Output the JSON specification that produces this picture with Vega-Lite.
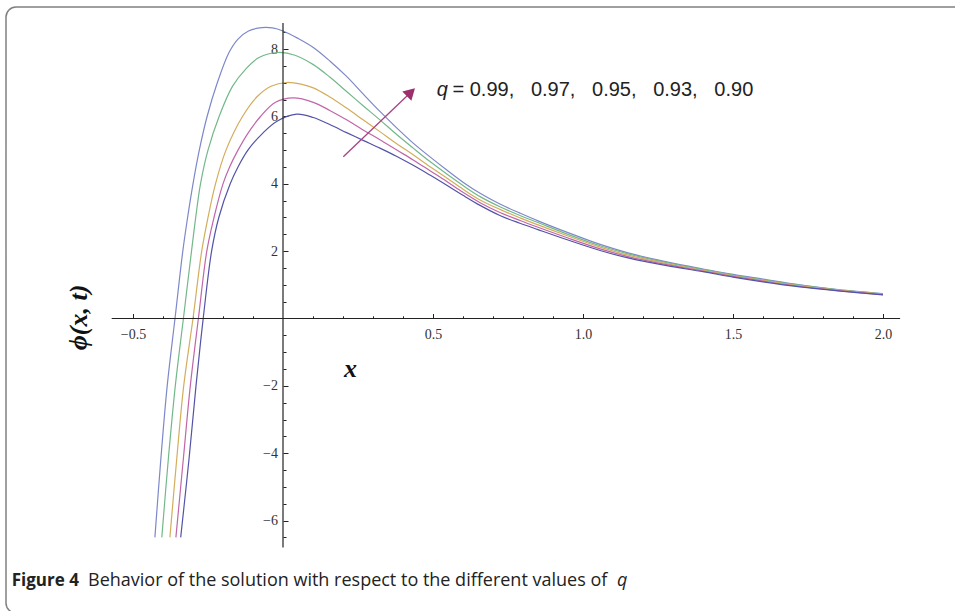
{
  "$schema": "https://vega.github.io/schema/vega-lite/v6.json",
  "width": 960,
  "height": 606,
  "autosize": "none",
  "padding": {"left": 6, "top": 7, "right": -11, "bottom": -2},
  "background": "white",
  "config": {
    "view": {"stroke": "#808080", "strokeWidth": 1.5, "cornerRadius": 10},
    "axis": {"grid": false, "domain": false}
  },
  "resolve": {"axis": {"x": "independent", "y": "independent"}},
  "layer": [
    {
      "data": {"values": [
        {"q":"0.99","x":-0.427,"y":-6.5},{"q":"0.99","x":-0.407,"y":-4.15},{"q":"0.99","x":-0.386,"y":-2.0},{"q":"0.99","x":-0.36,"y":0},{"q":"0.99","x":-0.334,"y":2},{"q":"0.99","x":-0.318,"y":3},{"q":"0.99","x":-0.3,"y":4},{"q":"0.99","x":-0.279,"y":5},{"q":"0.99","x":-0.253,"y":6},{"q":"0.99","x":-0.219,"y":7},{"q":"0.99","x":-0.18,"y":7.9},{"q":"0.99","x":-0.15,"y":8.3},{"q":"0.99","x":-0.115,"y":8.54},{"q":"0.99","x":-0.07,"y":8.64},{"q":"0.99","x":-0.035,"y":8.63},{"q":"0.99","x":0.0,"y":8.54},{"q":"0.99","x":0.05,"y":8.32},{"q":"0.99","x":0.101,"y":8.05},{"q":"0.99","x":0.156,"y":7.65},{"q":"0.99","x":0.212,"y":7.19},{"q":"0.99","x":0.267,"y":6.67},{"q":"0.99","x":0.323,"y":6.15},{"q":"0.99","x":0.378,"y":5.67},{"q":"0.99","x":0.434,"y":5.21},{"q":"0.99","x":0.49,"y":4.8},{"q":"0.99","x":0.546,"y":4.41},{"q":"0.99","x":0.6,"y":4.05},{"q":"0.99","x":0.657,"y":3.72},{"q":"0.99","x":0.723,"y":3.4},{"q":"0.99","x":0.79,"y":3.13},{"q":"0.99","x":0.85,"y":2.9},{"q":"0.99","x":0.95,"y":2.55},{"q":"0.99","x":1.057,"y":2.2},{"q":"0.99","x":1.15,"y":1.95},{"q":"0.99","x":1.279,"y":1.68},{"q":"0.99","x":1.4,"y":1.47},{"q":"0.99","x":1.5,"y":1.31},{"q":"0.99","x":1.6,"y":1.17},{"q":"0.99","x":1.723,"y":1.0},{"q":"0.99","x":1.85,"y":0.86},{"q":"0.99","x":2.0,"y":0.74},
        {"q":"0.97","x":-0.404,"y":-6.5},{"q":"0.97","x":-0.382,"y":-4.15},{"q":"0.97","x":-0.359,"y":-2},{"q":"0.97","x":-0.332,"y":0},{"q":"0.97","x":-0.305,"y":2},{"q":"0.97","x":-0.291,"y":3},{"q":"0.97","x":-0.275,"y":4},{"q":"0.97","x":-0.25,"y":5},{"q":"0.97","x":-0.213,"y":6},{"q":"0.97","x":-0.168,"y":6.9},{"q":"0.97","x":-0.125,"y":7.4},{"q":"0.97","x":-0.08,"y":7.75},{"q":"0.97","x":-0.016,"y":7.9},{"q":"0.97","x":0.04,"y":7.82},{"q":"0.97","x":0.101,"y":7.54},{"q":"0.97","x":0.156,"y":7.17},{"q":"0.97","x":0.212,"y":6.74},{"q":"0.97","x":0.267,"y":6.32},{"q":"0.97","x":0.323,"y":5.9},{"q":"0.97","x":0.378,"y":5.47},{"q":"0.97","x":0.434,"y":5.06},{"q":"0.97","x":0.49,"y":4.66},{"q":"0.97","x":0.546,"y":4.29},{"q":"0.97","x":0.6,"y":3.95},{"q":"0.97","x":0.657,"y":3.62},{"q":"0.97","x":0.723,"y":3.32},{"q":"0.97","x":0.79,"y":3.06},{"q":"0.97","x":0.85,"y":2.85},{"q":"0.97","x":0.95,"y":2.5},{"q":"0.97","x":1.057,"y":2.16},{"q":"0.97","x":1.15,"y":1.92},{"q":"0.97","x":1.279,"y":1.66},{"q":"0.97","x":1.4,"y":1.45},{"q":"0.97","x":1.5,"y":1.29},{"q":"0.97","x":1.6,"y":1.15},{"q":"0.97","x":1.723,"y":0.99},{"q":"0.97","x":1.85,"y":0.85},{"q":"0.97","x":2.0,"y":0.73},
        {"q":"0.95","x":-0.377,"y":-6.5},{"q":"0.95","x":-0.354,"y":-4.15},{"q":"0.95","x":-0.331,"y":-2},{"q":"0.95","x":-0.3,"y":0},{"q":"0.95","x":-0.271,"y":2},{"q":"0.95","x":-0.25,"y":3},{"q":"0.95","x":-0.225,"y":4},{"q":"0.95","x":-0.19,"y":5},{"q":"0.95","x":-0.135,"y":6},{"q":"0.95","x":-0.085,"y":6.6},{"q":"0.95","x":-0.04,"y":6.9},{"q":"0.95","x":0.012,"y":7.01},{"q":"0.95","x":0.06,"y":6.96},{"q":"0.95","x":0.101,"y":6.85},{"q":"0.95","x":0.156,"y":6.58},{"q":"0.95","x":0.212,"y":6.25},{"q":"0.95","x":0.267,"y":5.9},{"q":"0.95","x":0.323,"y":5.55},{"q":"0.95","x":0.378,"y":5.2},{"q":"0.95","x":0.434,"y":4.86},{"q":"0.95","x":0.49,"y":4.51},{"q":"0.95","x":0.546,"y":4.17},{"q":"0.95","x":0.6,"y":3.84},{"q":"0.95","x":0.657,"y":3.52},{"q":"0.95","x":0.723,"y":3.24},{"q":"0.95","x":0.79,"y":2.99},{"q":"0.95","x":0.85,"y":2.78},{"q":"0.95","x":0.95,"y":2.45},{"q":"0.95","x":1.057,"y":2.12},{"q":"0.95","x":1.15,"y":1.88},{"q":"0.95","x":1.279,"y":1.63},{"q":"0.95","x":1.4,"y":1.43},{"q":"0.95","x":1.5,"y":1.27},{"q":"0.95","x":1.6,"y":1.13},{"q":"0.95","x":1.723,"y":0.97},{"q":"0.95","x":1.85,"y":0.84},{"q":"0.95","x":2.0,"y":0.72},
        {"q":"0.93","x":-0.357,"y":-6.5},{"q":"0.93","x":-0.332,"y":-4.15},{"q":"0.93","x":-0.309,"y":-2},{"q":"0.93","x":-0.282,"y":0},{"q":"0.93","x":-0.254,"y":2},{"q":"0.93","x":-0.23,"y":3},{"q":"0.93","x":-0.2,"y":4},{"q":"0.93","x":-0.178,"y":4.5},{"q":"0.93","x":-0.15,"y":5},{"q":"0.93","x":-0.117,"y":5.5},{"q":"0.93","x":-0.075,"y":6},{"q":"0.93","x":-0.025,"y":6.42},{"q":"0.93","x":0.034,"y":6.55},{"q":"0.93","x":0.101,"y":6.42},{"q":"0.93","x":0.156,"y":6.18},{"q":"0.93","x":0.212,"y":5.9},{"q":"0.93","x":0.267,"y":5.6},{"q":"0.93","x":0.323,"y":5.31},{"q":"0.93","x":0.378,"y":5.01},{"q":"0.93","x":0.434,"y":4.71},{"q":"0.93","x":0.49,"y":4.39},{"q":"0.93","x":0.546,"y":4.07},{"q":"0.93","x":0.6,"y":3.75},{"q":"0.93","x":0.657,"y":3.44},{"q":"0.93","x":0.723,"y":3.15},{"q":"0.93","x":0.79,"y":2.91},{"q":"0.93","x":0.85,"y":2.71},{"q":"0.93","x":0.95,"y":2.39},{"q":"0.93","x":1.057,"y":2.07},{"q":"0.93","x":1.15,"y":1.84},{"q":"0.93","x":1.279,"y":1.6},{"q":"0.93","x":1.4,"y":1.41},{"q":"0.93","x":1.5,"y":1.25},{"q":"0.93","x":1.6,"y":1.11},{"q":"0.93","x":1.723,"y":0.95},{"q":"0.93","x":1.85,"y":0.83},{"q":"0.93","x":2.0,"y":0.71},
        {"q":"0.90","x":-0.341,"y":-6.5},{"q":"0.90","x":-0.313,"y":-4.15},{"q":"0.90","x":-0.29,"y":-2},{"q":"0.90","x":-0.266,"y":0},{"q":"0.90","x":-0.238,"y":2},{"q":"0.90","x":-0.214,"y":3},{"q":"0.90","x":-0.176,"y":4},{"q":"0.90","x":-0.15,"y":4.5},{"q":"0.90","x":-0.117,"y":5},{"q":"0.90","x":-0.068,"y":5.5},{"q":"0.90","x":-0.02,"y":5.86},{"q":"0.90","x":0.046,"y":6.07},{"q":"0.90","x":0.101,"y":5.97},{"q":"0.90","x":0.156,"y":5.76},{"q":"0.90","x":0.212,"y":5.52},{"q":"0.90","x":0.267,"y":5.29},{"q":"0.90","x":0.323,"y":5.06},{"q":"0.90","x":0.378,"y":4.82},{"q":"0.90","x":0.434,"y":4.55},{"q":"0.90","x":0.49,"y":4.26},{"q":"0.90","x":0.546,"y":3.96},{"q":"0.90","x":0.6,"y":3.66},{"q":"0.90","x":0.657,"y":3.36},{"q":"0.90","x":0.723,"y":3.06},{"q":"0.90","x":0.79,"y":2.83},{"q":"0.90","x":0.85,"y":2.64},{"q":"0.90","x":0.95,"y":2.33},{"q":"0.90","x":1.057,"y":2.02},{"q":"0.90","x":1.15,"y":1.8},{"q":"0.90","x":1.279,"y":1.57},{"q":"0.90","x":1.4,"y":1.39},{"q":"0.90","x":1.5,"y":1.23},{"q":"0.90","x":1.6,"y":1.09},{"q":"0.90","x":1.723,"y":0.94},{"q":"0.90","x":1.85,"y":0.82},{"q":"0.90","x":2.0,"y":0.7}
      ]},
      "mark": {"type": "line", "interpolate": "catmull-rom", "strokeWidth": 1.2},
      "encoding": {
        "x": {"field": "x", "type": "quantitative",
          "scale": {"domain": [-0.92333, 2.27667], "nice": false, "zero": false},
          "axis": {"orient": "bottom", "offset": -294.5, "values": [-0.5, 0.5, 1, 1.5, 2], "format": ".1f",
            "domain": false, "grid": false, "tickSize": -5, "tickColor": "#222222", "tickWidth": 1,
            "labelPadding": 13.5, "labelFont": "Liberation Serif", "labelFontSize": 14, "labelColor": "#333333",
            "labelFlush": false, "labelOverlap": false, "labelBound": false,
            "title": "x", "titleFont": "Liberation Serif", "titleFontStyle": "italic", "titleFontWeight": "bold",
            "titleFontSize": 26, "titleColor": "#111111", "titleX": 344, "titleY": 50, "titleAlign": "center", "titleBaseline": "middle"}},
        "y": {"field": "y", "type": "quantitative",
          "scale": {"domain": [-8.7467, 9.2516], "nice": false, "zero": false},
          "axis": {"orient": "left", "offset": -277, "values": [-6, -4, -2, 2, 4, 6, 8], "format": "d",
            "domain": false, "grid": false, "tickSize": -5, "tickColor": "#222222", "tickWidth": 1,
            "labelPadding": 10.5, "labelFont": "Liberation Serif", "labelFontSize": 14, "labelColor": "#333333",
            "labelFlush": false, "labelOverlap": false, "labelBound": false,
            "title": "ϕ(x, t)", "titleFont": "Liberation Serif", "titleFontStyle": "italic", "titleFontWeight": "bold",
            "titleFontSize": 26, "titleColor": "#111111", "titleX": -205, "titleY": 310, "titleAngle": -90, "titleAlign": "center", "titleBaseline": "middle"}},
        "color": {"field": "q", "type": "nominal",
          "scale": {"domain": ["0.99", "0.97", "0.95", "0.93", "0.90"], "range": ["#7d88c8", "#72b88a", "#d3ad5c", "#c166a9", "#5353a8"]},
          "legend": null}
      }
    },
    {
      "data": {"values": [{"x": -0.571, "x2": 2.057, "y": 0}]},
      "mark": {"type": "rule", "color": "#222222", "strokeWidth": 1.2},
      "encoding": {
        "x": {"field": "x", "type": "quantitative",
          "scale": {"domain": [-0.92333, 2.27667], "nice": false, "zero": false},
          "axis": {"orient": "bottom", "offset": -294.5,
            "values": [-0.4, -0.3, -0.2, -0.1, 0.1, 0.2, 0.3, 0.4, 0.6, 0.7, 0.8, 0.9, 1.1, 1.2, 1.3, 1.4, 1.6, 1.7, 1.8, 1.9],
            "labels": false, "domain": false, "grid": false, "tickSize": -2.7, "tickColor": "#222222", "tickWidth": 1, "title": null}},
        "x2": {"field": "x2"},
        "y": {"field": "y", "type": "quantitative", "scale": {"domain": [-8.7467, 9.2516], "nice": false, "zero": false}, "axis": null}
      }
    },
    {
      "data": {"values": [{"x": 0, "y": -6.8, "y2": 8.78}]},
      "mark": {"type": "rule", "color": "#222222", "strokeWidth": 1.2},
      "encoding": {
        "x": {"field": "x", "type": "quantitative", "scale": {"domain": [-0.92333, 2.27667], "nice": false, "zero": false}, "axis": null},
        "y": {"field": "y", "type": "quantitative",
          "scale": {"domain": [-8.7467, 9.2516], "nice": false, "zero": false},
          "axis": {"orient": "left", "offset": -277,
            "values": [-6.5, -5.5, -5, -4.5, -3.5, -3, -2.5, -1.5, -1, -0.5, 0.5, 1, 1.5, 2.5, 3, 3.5, 4.5, 5, 5.5, 6.5, 7, 7.5, 8.5],
            "labels": false, "domain": false, "grid": false, "tickSize": -3, "tickColor": "#222222", "tickWidth": 1, "title": null}},
        "y2": {"field": "y2"}
      }
    },
    {
      "data": {"values": [{"x": 0.201, "y": 4.805, "x2": 0.4263, "y2": 6.72}]},
      "mark": {"type": "rule", "color": "#a8447e", "strokeWidth": 1.3},
      "encoding": {
        "x": {"field": "x", "type": "quantitative", "scale": {"domain": [-0.92333, 2.27667], "nice": false, "zero": false}, "axis": null},
        "y": {"field": "y", "type": "quantitative", "scale": {"domain": [-8.7467, 9.2516], "nice": false, "zero": false}, "axis": null},
        "x2": {"field": "x2"},
        "y2": {"field": "y2"}
      }
    },
    {
      "data": {"values": [{"x": 0.4263, "y": 6.72}]},
      "mark": {"type": "point", "shape": "triangle-up", "angle": 46, "size": 170, "filled": true, "color": "#9c2f6c", "opacity": 1},
      "encoding": {
        "x": {"field": "x", "type": "quantitative", "scale": {"domain": [-0.92333, 2.27667], "nice": false, "zero": false}, "axis": null},
        "y": {"field": "y", "type": "quantitative", "scale": {"domain": [-8.7467, 9.2516], "nice": false, "zero": false}, "axis": null}
      }
    },
    {
      "data": {"values": [{"x": 0.5123, "y": 6.61, "label": "q"}]},
      "mark": {"type": "text", "align": "left", "baseline": "alphabetic", "font": "Liberation Sans", "fontSize": 20, "fontStyle": "italic", "color": "#222222"},
      "encoding": {
        "x": {"field": "x", "type": "quantitative", "scale": {"domain": [-0.92333, 2.27667], "nice": false, "zero": false}, "axis": null},
        "y": {"field": "y", "type": "quantitative", "scale": {"domain": [-8.7467, 9.2516], "nice": false, "zero": false}, "axis": null},
        "text": {"field": "label"}
      }
    },
    {
      "data": {"values": [{"x": 0.565, "y": 6.61, "label": "= 0.99,\u00a0\u00a0 0.97,\u00a0\u00a0 0.95,\u00a0\u00a0 0.93,\u00a0\u00a0 0.90"}]},
      "mark": {"type": "text", "align": "left", "baseline": "alphabetic", "font": "Liberation Sans", "fontSize": 20, "color": "#222222"},
      "encoding": {
        "x": {"field": "x", "type": "quantitative", "scale": {"domain": [-0.92333, 2.27667], "nice": false, "zero": false}, "axis": null},
        "y": {"field": "y", "type": "quantitative", "scale": {"domain": [-8.7467, 9.2516], "nice": false, "zero": false}, "axis": null},
        "text": {"field": "label"}
      }
    },
    {
      "data": {"values": [{"x": -0.9043, "y": -7.945, "label": "Figure 4"}]},
      "mark": {"type": "text", "align": "left", "baseline": "alphabetic", "font": "Open Sans", "fontSize": 17, "fontWeight": "bold", "color": "#222222"},
      "encoding": {
        "x": {"field": "x", "type": "quantitative", "scale": {"domain": [-0.92333, 2.27667], "nice": false, "zero": false}, "axis": null},
        "y": {"field": "y", "type": "quantitative", "scale": {"domain": [-8.7467, 9.2516], "nice": false, "zero": false}, "axis": null},
        "text": {"field": "label"}
      }
    },
    {
      "data": {"values": [{"x": -0.65, "y": -7.945, "label": "Behavior of the solution with respect to the different values of"}]},
      "mark": {"type": "text", "align": "left", "baseline": "alphabetic", "font": "Open Sans", "fontSize": 18, "color": "#222222"},
      "encoding": {
        "x": {"field": "x", "type": "quantitative", "scale": {"domain": [-0.92333, 2.27667], "nice": false, "zero": false}, "axis": null},
        "y": {"field": "y", "type": "quantitative", "scale": {"domain": [-8.7467, 9.2516], "nice": false, "zero": false}, "axis": null},
        "text": {"field": "label"}
      }
    },
    {
      "data": {"values": [{"x": 1.1133, "y": -7.945, "label": "q"}]},
      "mark": {"type": "text", "align": "left", "baseline": "alphabetic", "font": "Open Sans", "fontSize": 18, "fontStyle": "italic", "color": "#222222"},
      "encoding": {
        "x": {"field": "x", "type": "quantitative", "scale": {"domain": [-0.92333, 2.27667], "nice": false, "zero": false}, "axis": null},
        "y": {"field": "y", "type": "quantitative", "scale": {"domain": [-8.7467, 9.2516], "nice": false, "zero": false}, "axis": null},
        "text": {"field": "label"}
      }
    }
  ]
}
